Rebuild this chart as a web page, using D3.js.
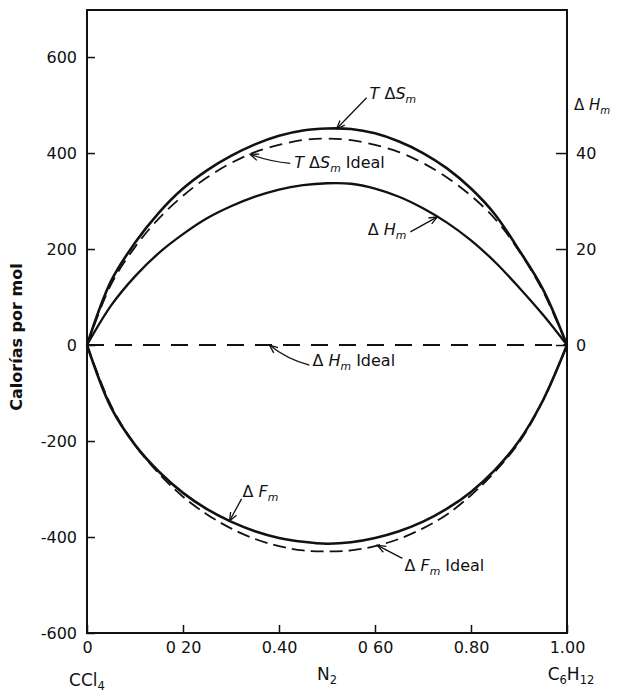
<!DOCTYPE html>
<html>
<head>
<meta charset="utf-8">
<script src="https://cdn.jsdelivr.net/npm/d3@7"></script>
<style>
  body { margin: 0; background: #fff; }
  svg { display: block; }
  text { font-family: "DejaVu Sans", sans-serif; fill: #111; }
</style>
</head>
<body>
<svg id="chart" width="617" height="695"></svg>
<script>
// Mole fraction of C6H12 (x axis)
const molFrac = [0, 0.05, 0.10, 0.15, 0.20, 0.25, 0.30, 0.35, 0.40, 0.45, 0.50,
                 0.55, 0.60, 0.65, 0.70, 0.75, 0.80, 0.85, 0.90, 0.95, 1.00];
// T·ΔS of mixing, cal/mol (left axis)
const tdsMix = [0, 133, 213, 276, 326, 364, 394, 418, 436, 447, 451,
                450, 441, 424, 400, 368, 326, 272, 198, 116, 0];
// Ideal T·ΔS of mixing, cal/mol (left axis)
const tdsIdeal = [0, 126, 204, 264, 311, 349, 379, 402, 417, 427, 430,
                  427, 417, 402, 379, 349, 311, 263, 196, 112, 0];
// ΔH of mixing, cal/mol (right axis)
const dhMix = [0, 8.2, 14.3, 19.2, 23.1, 26.4, 28.9, 30.9, 32.4, 33.3, 33.7,
               33.6, 32.6, 30.9, 28.5, 25.5, 21.8, 17.3, 12.0, 6.3, 0];
// Ideal ΔH of mixing (zero everywhere)
const dhIdeal = [0, 0, 0, 0, 0, 0, 0, 0, 0, 0, 0,
                 0, 0, 0, 0, 0, 0, 0, 0, 0, 0];
// ΔF of mixing, cal/mol (left axis)
const dfMix = [0, -130, -208, -264, -308, -342, -368, -388, -402, -410, -414,
               -411, -402, -388, -368, -341, -306, -260, -200, -115, 0];
// Ideal ΔF of mixing, cal/mol (left axis)
const dfIdeal = [0, -126, -208, -268, -316, -353, -382, -404, -419, -428, -430,
                 -428, -419, -404, -382, -353, -313, -264, -203, -116, 0];

// Axis ticks and their printed labels
const xTicks = [0, 0.2, 0.4, 0.6, 0.8, 1.0];
const xTickLabels = ["0", "0 20", "0.40", "0 60", "0.80", "1.00"];
const yTicks = [-600, -400, -200, 0, 200, 400, 600];
const yTickLabels = ["-600", "-400", "-200", "0", "200", "400", "600"];
const y2Ticks = [0, 20, 40];
const y2TickLabels = ["0", "20", "40"];

const svg = d3.select("#chart");
const plot = { left: 87, right: 567, top: 10, bottom: 633 };

const x = d3.scaleLinear().domain([0, 1]).range([plot.left, plot.right]);
const y = d3.scaleLinear().domain([-600, 698]).range([plot.bottom, plot.top]);
// ΔH axis: one tenth of the calorie scale
const y2 = d3.scaleLinear().domain(y.domain().map(v => v / 10)).range(y.range());

// Frame
svg.append("rect")
  .attr("x", plot.left).attr("y", plot.top)
  .attr("width", plot.right - plot.left).attr("height", plot.bottom - plot.top)
  .attr("fill", "none").attr("stroke", "#111").attr("stroke-width", 2);

// Axes (ticks point into the plot)
const gx = svg.append("g").attr("transform", `translate(0,${plot.bottom})`)
  .call(d3.axisBottom(x).tickValues(xTicks).tickSize(-8).tickPadding(9)
    .tickFormat((d, i) => xTickLabels[i]));
const gy = svg.append("g").attr("transform", `translate(${plot.left},0)`)
  .call(d3.axisLeft(y).tickValues(yTicks).tickSize(-8).tickPadding(10)
    .tickFormat((d, i) => yTickLabels[i]));
const gy2 = svg.append("g").attr("transform", `translate(${plot.right},0)`)
  .call(d3.axisRight(y2).tickValues(y2Ticks).tickSize(-11).tickPadding(9)
    .tickFormat((d, i) => y2TickLabels[i]));
[gx, gy, gy2].forEach(g => {
  g.select(".domain").remove();
  g.selectAll(".tick line").attr("stroke", "#111").attr("stroke-width", 1.5);
  g.selectAll(".tick text").attr("font-size", 16).attr("fill", "#111")
    .attr("font-family", "DejaVu Sans, sans-serif");
});

// Curves
const lineL = d3.line().x((d, i) => x(molFrac[i])).y(d => y(d)).curve(d3.curveCatmullRom.alpha(0.5));
const lineR = d3.line().x((d, i) => x(molFrac[i])).y(d => y2(d)).curve(d3.curveCatmullRom.alpha(0.5));

const series = [
  { data: dhIdeal, gen: lineR, dash: "17,11", w: 1.8 },
  { data: tdsIdeal, gen: lineL, dash: "13,7", w: 1.8 },
  { data: dfIdeal, gen: lineL, dash: "13,6", w: 1.8 },
  { data: tdsMix, gen: lineL, dash: null, w: 2.6 },
  { data: dhMix, gen: lineR, dash: null, w: 2.3 },
  { data: dfMix, gen: lineL, dash: null, w: 2.6 }
];
series.forEach(s => {
  svg.append("path").attr("d", s.gen(s.data))
    .attr("fill", "none").attr("stroke", "#111")
    .attr("stroke-width", s.w)
    .attr("stroke-dasharray", s.dash)
    .attr("stroke-linejoin", "round");
});

// Rich label helper: parts with italic / subscript flags
function richText(g, px, py, parts, anchor, size) {
  const t = g.append("text").attr("x", px).attr("y", py)
    .attr("font-size", size).attr("text-anchor", anchor || "start");
  let shifted = 0;
  parts.forEach(p => {
    const ts = t.append("tspan").text(p.t);
    if (p.i) ts.attr("font-style", "italic");
    if (p.sub) {
      ts.attr("font-size", size * 0.68).attr("dy", 4 - shifted);
      shifted = 4;
    } else if (shifted) {
      ts.attr("dy", -shifted);
      shifted = 0;
    }
  });
  return t;
}

// Value of a series at a given mole fraction
function valueAt(data, xv) {
  const i = Math.min(Math.floor(xv / 0.05), data.length - 2);
  const t = (xv - molFrac[i]) / (molFrac[i + 1] - molFrac[i]);
  return data[i] + t * (data[i + 1] - data[i]);
}

// Leader arrows with open heads
function arrow(tip, tail, bend) {
  const mx = (tip[0] + tail[0]) / 2, my = (tip[1] + tail[1]) / 2;
  const dx = tip[0] - tail[0], dy = tip[1] - tail[1];
  const len = Math.hypot(dx, dy);
  const cx = mx - dy / len * bend, cy = my + dx / len * bend;
  svg.append("path")
    .attr("d", `M${tail[0]},${tail[1]} Q${cx},${cy} ${tip[0]},${tip[1]}`)
    .attr("fill", "none").attr("stroke", "#111").attr("stroke-width", 1.3);
  const ang = Math.atan2(tip[1] - cy, tip[0] - cx);
  const hl = 9, ha = 0.38;
  const p1 = [tip[0] - hl * Math.cos(ang - ha), tip[1] - hl * Math.sin(ang - ha)];
  const p2 = [tip[0] - hl * Math.cos(ang + ha), tip[1] - hl * Math.sin(ang + ha)];
  svg.append("path")
    .attr("d", `M${p1[0]},${p1[1]} L${tip[0]},${tip[1]} L${p2[0]},${p2[1]}`)
    .attr("fill", "none").attr("stroke", "#111").attr("stroke-width", 1.3);
}

const annotations = [
  { xv: 0.52, data: tdsMix, sc: y, tail: [30, -31], bend: 0, text: [33, -30], anchor: "start",
    parts: [{ t: "T", i: true }, { t: " Δ" }, { t: "S", i: true }, { t: "m", i: true, sub: true }] },
  { xv: 0.34, data: tdsIdeal, sc: y, tail: [40, 9], bend: -3, text: [44, 14], anchor: "start",
    parts: [{ t: "T", i: true }, { t: " Δ" }, { t: "S", i: true }, { t: "m", i: true, sub: true }, { t: " Ideal" }] },
  { xv: 0.73, data: dhMix, sc: y2, tail: [-27, 15], bend: 0, text: [-31, 18], anchor: "end",
    parts: [{ t: "Δ " }, { t: "H", i: true }, { t: "m", i: true, sub: true }] },
  { xv: 0.38, data: dhIdeal, sc: y2, tail: [40, 20], bend: -5, text: [43, 21], anchor: "start",
    parts: [{ t: "Δ " }, { t: "H", i: true }, { t: "m", i: true, sub: true }, { t: " Ideal" }] },
  { xv: 0.297, data: dfMix, sc: y, tail: [12, -22], bend: 0, text: [13, -24], anchor: "start",
    parts: [{ t: "Δ " }, { t: "F", i: true }, { t: "m", i: true, sub: true }] },
  { xv: 0.605, data: dfIdeal, sc: y, tail: [25, 13], bend: 0, text: [27, 26], anchor: "start",
    parts: [{ t: "Δ " }, { t: "F", i: true }, { t: "m", i: true, sub: true }, { t: "  Ideal" }] }
];
annotations.forEach(a => {
  const tip = [x(a.xv), a.sc(valueAt(a.data, a.xv))];
  arrow(tip, [tip[0] + a.tail[0], tip[1] + a.tail[1]], a.bend);
  richText(svg, tip[0] + a.text[0], tip[1] + a.text[1], a.parts, a.anchor, 16);
});

// Right axis title
richText(svg, 574, 110, [{ t: "Δ " }, { t: "H", i: true }, { t: "m", i: true, sub: true }], "start", 15);

// Left axis title
svg.append("text")
  .attr("transform", `translate(22,${337}) rotate(-90)`)
  .attr("text-anchor", "middle").attr("font-size", 16).attr("font-weight", "bold")
  .text("Calorías por mol");

// Component labels under the x axis
richText(svg, x(0), 686, [{ t: "CCl" }, { t: "4", sub: true }], "middle", 17);
richText(svg, x(0.5), 680, [{ t: "N" }, { t: "2", sub: true }], "middle", 17);
richText(svg, x(1) + 4, 680, [{ t: "C" }, { t: "6", sub: true }, { t: "H" }, { t: "12", sub: true }], "middle", 17);
</script>
</body>
</html>
